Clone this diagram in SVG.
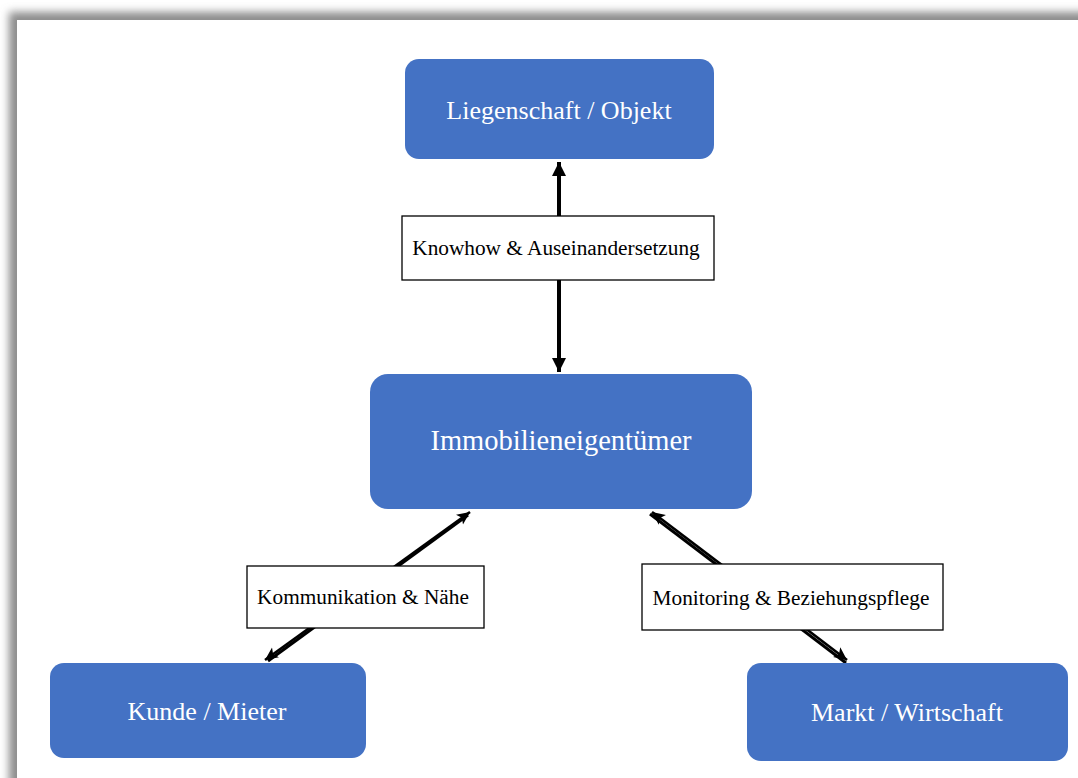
<svg xmlns="http://www.w3.org/2000/svg" width="1078" height="778" viewBox="0 0 1078 778">
<defs>
<filter id="blur" x="-5%" y="-5%" width="110%" height="110%"><feGaussianBlur stdDeviation="4"/></filter>
<marker id="ahV" markerUnits="userSpaceOnUse" markerWidth="14" markerHeight="16" refX="14" refY="7" orient="auto-start-reverse" viewBox="0 0 14 14"><path d="M0,0 L14,7 L0,14 Z" fill="#000"/></marker>
<marker id="ahD" markerUnits="userSpaceOnUse" markerWidth="14" markerHeight="14" refX="13" refY="6" orient="auto-start-reverse" viewBox="0 0 14 12"><path d="M0,0 L13,6 L0,12 L3,6 Z" fill="#000"/></marker>
<style>
.node rect{fill:#4472c4;}
.node text{fill:#fff;font-family:"Liberation Serif","Times New Roman",serif;text-anchor:middle;font-size:26px;}
.node text.big{font-size:28.5px;}
.lbl rect{fill:#fff;stroke:#000;stroke-width:1.3;}
.lbl text{fill:#000;font-family:"Liberation Serif","Times New Roman",serif;font-size:21.3px;text-anchor:middle;}
.conn line{stroke:#000;}
</style>
</defs>
<rect x="0" y="0" width="1078" height="778" fill="#fff"/>
<rect x="9" y="12" width="1100" height="800" fill="#8c8c8c" filter="url(#blur)"/>
<rect x="17" y="20" width="1100" height="800" fill="#fff"/>
<g id="connectors" class="conn">
<line x1="559" y1="162" x2="559" y2="372" stroke-width="4" marker-start="url(#ahV)" marker-end="url(#ahV)"/>
<line x1="468" y1="515" x2="268" y2="661" stroke="#4472c4" stroke-width="3"/>
<line x1="470" y1="512" x2="265" y2="660" stroke-width="2.6" marker-start="url(#ahD)" marker-end="url(#ahD)"/>
<line x1="650" y1="514" x2="846" y2="663" stroke="#4472c4" stroke-width="3"/>
<line x1="652" y1="512" x2="847" y2="660" stroke-width="2.6" marker-start="url(#ahD)" marker-end="url(#ahD)"/>
</g>
<g id="liegenschaft" class="node"><rect x="405" y="59" width="309" height="100" rx="14"/><text x="559" y="119">Liegenschaft / Objekt</text></g>
<g id="immobilieneigentuemer" class="node"><rect x="370" y="374" width="382" height="135" rx="18"/><text class="big" x="561" y="450">Immobilieneigentümer</text></g>
<g id="kunde" class="node"><rect x="50" y="663" width="316" height="95" rx="14"/><text x="207" y="720">Kunde / Mieter</text></g>
<g id="markt" class="node"><rect x="747" y="663" width="321" height="98" rx="14"/><text x="907" y="721">Markt / Wirtschaft</text></g>
<g id="label-knowhow" class="lbl"><rect x="402" y="216" width="312" height="64"/><text x="556" y="255">Knowhow &amp; Auseinandersetzung</text></g>
<g id="label-kommunikation" class="lbl"><rect x="247" y="566" width="237" height="62"/><text x="363" y="604">Kommunikation &amp; Nähe</text></g>
<g id="label-monitoring" class="lbl"><rect x="642" y="564" width="301" height="66"/><text x="791" y="605">Monitoring &amp; Beziehungspflege</text></g>
</svg>
